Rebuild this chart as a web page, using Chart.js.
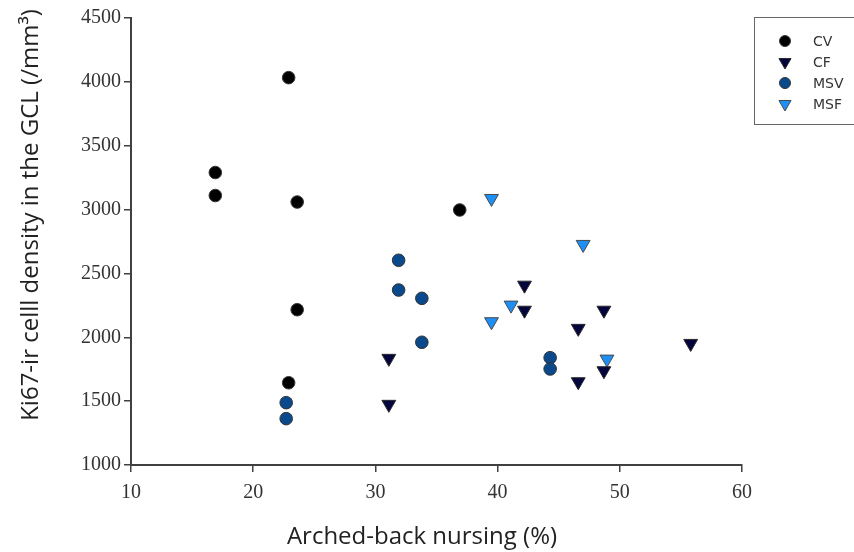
<!DOCTYPE html>
<html>
<head>
<meta charset="utf-8">
<script src="https://cdn.jsdelivr.net/npm/chart.js@4.4.1/dist/chart.umd.min.js"></script>
<style>
  html, body { margin: 0; padding: 0; background: #fff; }
  #wrap { width: 854px; height: 552px; position: relative; }
</style>
</head>
<body>
<div id="wrap"><canvas id="scatterChart"></canvas></div>
<script>
// values (x = arched-back nursing %, y = Ki67-ir density)
const cvX = [16.9, 16.9, 22.9, 23.6, 23.6, 22.9, 36.9];
const cvY = [3290, 3110, 4033, 3059, 2216, 1644, 2997];

const cfX = [31.1, 31.1, 42.2, 42.2, 46.6, 46.6, 48.7, 48.7, 55.8];
const cfY = [1835, 1475, 2408, 2212, 2070, 1652, 2212, 1738, 1952];

const msvX = [22.7, 22.7, 31.9, 31.9, 33.8, 33.8, 44.3, 44.3];
const msvY = [1488, 1363, 2603, 2370, 2305, 1961, 1840, 1752];

const msfX = [39.5, 47.0, 41.1, 39.5, 48.95];
const msfY = [3087, 2727, 2252, 2122, 1829];

const xTicks = [10, 20, 30, 40, 50, 60];
const yTicks = [1000, 1500, 2000, 2500, 3000, 3500, 4000, 4500];

const seriesNames = ["CV", "CF", "MSV", "MSF"];

const toPoints = (xs, ys) => xs.map((x, i) => ({ x: x, y: ys[i] }));

const axisColor = "#404040";
const tickFont = { family: "Liberation Serif", size: 20 };

const datasets = [
  {
    label: seriesNames[0],
    data: toPoints(cvX, cvY),
    pointStyle: "circle",
    pointRadius: 6.3,
    backgroundColor: "#000000",
    borderColor: "#3a3a3a",
    borderWidth: 1
  },
  {
    label: seriesNames[1],
    data: toPoints(cfX, cfY),
    pointStyle: "triangle",
    rotation: 180,
    pointRadius: 8,
    backgroundColor: "#05053d",
    borderColor: "#2a2a2a",
    borderWidth: 1
  },
  {
    label: seriesNames[2],
    data: toPoints(msvX, msvY),
    pointStyle: "circle",
    pointRadius: 6.3,
    backgroundColor: "#0a4a8c",
    borderColor: "#333333",
    borderWidth: 1
  },
  {
    label: seriesNames[3],
    data: toPoints(msfX, msfY),
    pointStyle: "triangle",
    rotation: 180,
    pointRadius: 8,
    backgroundColor: "#1e90f5",
    borderColor: "#4a4a4a",
    borderWidth: 1
  }
];

// axis titles and the boxed legend, drawn on top of the chart
const extrasPlugin = {
  id: "extras",
  afterDraw(chart) {
    const ctx = chart.ctx;
    ctx.save();
    ctx.fillStyle = "#222";
    ctx.textBaseline = "middle";
    ctx.textAlign = "center";
    ctx.font = "24px 'Open Sans'";
    ctx.fillText("Arched-back nursing (%)", 422, 537);

    ctx.translate(31, 215);
    ctx.rotate(-Math.PI / 2);
    ctx.fillText("Ki67-ir celll density in the GCL (/mm\u00b3)", 0, 0);
    ctx.restore();

    // legend box
    ctx.save();
    ctx.strokeStyle = "#666";
    ctx.lineWidth = 1;
    ctx.strokeRect(754.5, 17.5, 110, 107);
    const rows = [41, 62, 83, 104];
    chart.data.datasets.forEach((ds, i) => {
      ctx.fillStyle = ds.backgroundColor;
      ctx.strokeStyle = ds.borderColor;
      ctx.lineWidth = 1;
      Chart.helpers.drawPoint(ctx, {
        pointStyle: ds.pointStyle,
        rotation: ds.rotation || 0,
        radius: ds.pointStyle === "triangle" ? 7 : 5.5,
        borderWidth: 1
      }, 785, rows[i]);
      ctx.fillStyle = "#333";
      ctx.font = "14px 'DejaVu Sans'";
      ctx.textAlign = "left";
      ctx.textBaseline = "middle";
      ctx.fillText(ds.label, 813, rows[i] + 1);
    });
    ctx.restore();
  }
};

document.addEventListener("DOMContentLoaded", () => {
  new Chart(document.getElementById("scatterChart"), {
    type: "scatter",
    data: { datasets: datasets },
    options: {
      responsive: true,
      maintainAspectRatio: false,
      animation: false,
      layout: { padding: { left: 0, top: 18, right: 112, bottom: 0 } },
      plugins: {
        legend: { display: false },
        tooltip: { enabled: false }
      },
      scales: {
        x: {
          type: "linear",
          min: xTicks[0],
          max: xTicks[xTicks.length - 1],
          afterBuildTicks: s => { s.ticks = xTicks.map(v => ({ value: v })); },
          afterFit: s => { s.height = 87; },
          ticks: { color: "#333", font: tickFont, padding: 9, callback: v => String(v) },
          grid: { display: true, drawOnChartArea: false, drawTicks: true, tickLength: 7, color: axisColor, lineWidth: 1.5 },
          border: { display: true, color: axisColor, width: 2 }
        },
        y: {
          type: "linear",
          min: yTicks[0],
          max: yTicks[yTicks.length - 1],
          afterBuildTicks: s => { s.ticks = yTicks.map(v => ({ value: v })); },
          afterFit: s => { s.width = 131; },
          ticks: { color: "#333", font: tickFont, padding: 3, callback: v => String(v) },
          grid: { display: true, drawOnChartArea: false, drawTicks: true, tickLength: 7, color: axisColor, lineWidth: 1.5 },
          border: { display: true, color: axisColor, width: 2 }
        }
      }
    },
    plugins: [extrasPlugin]
  });
});
</script>
</body>
</html>
